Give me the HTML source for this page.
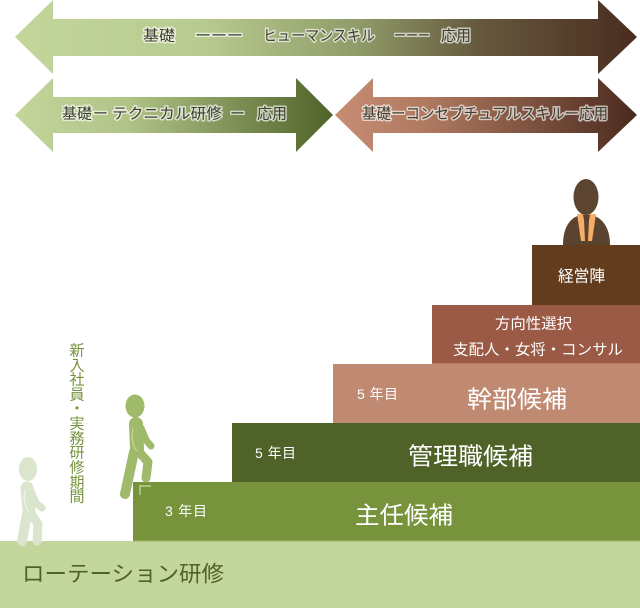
<!DOCTYPE html>
<html><head><meta charset="utf-8"><style>
html,body{margin:0;padding:0;background:#fff;}
svg{display:block;}
text{font-family:"Liberation Sans","Noto Sans CJK JP",sans-serif;}
.g{fill:#3f3f30;stroke:#ffffff;stroke-opacity:0.65;stroke-width:3;paint-order:stroke;stroke-linejoin:round;font-size:15px;}
.w{fill:#fff;}
</style></head><body>
<svg width="640" height="608" viewBox="0 0 640 608" xmlns="http://www.w3.org/2000/svg">
<defs>
<linearGradient id="ga" x1="15" y1="0" x2="637" y2="0" gradientUnits="userSpaceOnUse">
<stop offset="0" stop-color="#c3d69b"/><stop offset="0.3" stop-color="#b8cb8f"/><stop offset="0.55" stop-color="#909c69"/><stop offset="0.75" stop-color="#65583d"/><stop offset="1" stop-color="#4a2c1f"/>
</linearGradient>
<linearGradient id="gb" x1="15" y1="0" x2="333" y2="0" gradientUnits="userSpaceOnUse">
<stop offset="0" stop-color="#c3d69b"/><stop offset="0.35" stop-color="#b1c488"/><stop offset="1" stop-color="#4f6228"/>
</linearGradient>
<linearGradient id="gc" x1="335" y1="0" x2="637" y2="0" gradientUnits="userSpaceOnUse">
<stop offset="0" stop-color="#c68d73"/><stop offset="0.3" stop-color="#b07a60"/><stop offset="1" stop-color="#4a2a1e"/>
</linearGradient>
</defs>

<!-- arrows -->
<polygon fill="url(#ga)" points="15,37 53,0 53,19 598,19 598,0 637,37 598,74 598,56 53,56 53,74"/>
<polygon fill="url(#gb)" points="15,115 53,78 53,97 296,97 296,78 333,115 296,152 296,133 53,133 53,152"/>
<polygon fill="url(#gc)" points="335,115 373,78 373,97 598,97 598,78 637,115 598,152 598,133 373,133 373,152"/>

<text class="g" x="143" y="36" dominant-baseline="central" textLength="32" lengthAdjust="spacingAndGlyphs">基礎</text>
<text class="g" x="195" y="36" dominant-baseline="central" textLength="48" lengthAdjust="spacingAndGlyphs">ーーー</text>
<text class="g" x="263" y="36" dominant-baseline="central" textLength="112" lengthAdjust="spacingAndGlyphs">ヒューマンスキル</text>
<text class="g" x="394" y="36" dominant-baseline="central" textLength="36" lengthAdjust="spacingAndGlyphs">ーーー</text>
<text class="g" x="441" y="36" dominant-baseline="central" textLength="30" lengthAdjust="spacingAndGlyphs">応用</text>

<text class="g" x="62" y="114" dominant-baseline="central" textLength="30" lengthAdjust="spacingAndGlyphs">基礎</text>
<text class="g" x="93" y="114" dominant-baseline="central">ー</text>
<text class="g" x="112" y="114" dominant-baseline="central" textLength="110" lengthAdjust="spacingAndGlyphs">テクニカル研修</text>
<text class="g" x="230" y="114" dominant-baseline="central">ー</text>
<text class="g" x="257" y="114" dominant-baseline="central" textLength="30" lengthAdjust="spacingAndGlyphs">応用</text>

<text class="g" x="362" y="114" dominant-baseline="central" textLength="246" lengthAdjust="spacingAndGlyphs">基礎ーコンセプチュアルスキルー応用</text>

<!-- steps -->
<rect x="0" y="541" width="640" height="67" fill="#c3d69b"/>
<rect x="133" y="482" width="507" height="59" fill="#77933c"/>
<rect x="232" y="423" width="408" height="59" fill="#4f6228"/>
<rect x="333" y="364" width="307" height="59" fill="#c08a72"/>
<rect x="432" y="305" width="208" height="59" fill="#9a5a45"/>
<rect x="532" y="245" width="108" height="60" fill="#633c1d"/>
<line x1="432" y1="363.5" x2="640" y2="363.5" stroke="#b77a63" stroke-width="1"/>
<line x1="133" y1="541" x2="640" y2="541" stroke="#9bb565" stroke-width="1"/>

<text x="22" y="574" dominant-baseline="central" font-size="22" fill="#4f6228" textLength="202" lengthAdjust="spacingAndGlyphs">ローテーション研修</text>

<text class="w" x="165" y="511" dominant-baseline="central" font-size="14" textLength="42" lengthAdjust="spacing">3 年目</text>
<text class="w" x="355" y="516" dominant-baseline="central" font-size="24" textLength="98" lengthAdjust="spacingAndGlyphs">主任候補</text>

<text class="w" x="255" y="453" dominant-baseline="central" font-size="14" textLength="41" lengthAdjust="spacing">5 年目</text>
<text class="w" x="408" y="457" dominant-baseline="central" font-size="24" textLength="125" lengthAdjust="spacingAndGlyphs">管理職候補</text>

<text class="w" x="357" y="394" dominant-baseline="central" font-size="14" textLength="41" lengthAdjust="spacing">5 年目</text>
<text class="w" x="467" y="400" dominant-baseline="central" font-size="24" textLength="100" lengthAdjust="spacingAndGlyphs">幹部候補</text>

<text class="w" x="495" y="324" dominant-baseline="central" font-size="15" textLength="77" lengthAdjust="spacingAndGlyphs">方向性選択</text>
<text class="w" x="453" y="350" dominant-baseline="central" font-size="15" textLength="170" lengthAdjust="spacingAndGlyphs">支配人・女将・コンサル</text>

<text class="w" x="558" y="277" dominant-baseline="central" font-size="16" textLength="47" lengthAdjust="spacingAndGlyphs">経営陣</text>

<!-- vertical text -->
<g fill="#77933c" font-size="15" text-anchor="middle">
<text x="77" y="351" dominant-baseline="central">新</text>
<text x="77" y="366" dominant-baseline="central">入</text>
<text x="77" y="380" dominant-baseline="central">社</text>
<text x="77" y="395" dominant-baseline="central">員</text>
<text x="77" y="409" dominant-baseline="central">・</text>
<text x="77" y="424" dominant-baseline="central">実</text>
<text x="77" y="439" dominant-baseline="central">務</text>
<text x="77" y="453" dominant-baseline="central">研</text>
<text x="77" y="468" dominant-baseline="central">修</text>
<text x="77" y="483" dominant-baseline="central">期</text>
<text x="77" y="497" dominant-baseline="central">間</text>
</g>

<!-- person at top -->
<path d="M563,245 C563,226 571,215 586,214 C601,215 610,226 610,245 Z" fill="#5a4430"/>
<polygon points="577,214 596,214 592,241 581,241" fill="#f8ad66"/>
<polygon points="583,215 590,215 589,220 588,241 585,241 584,220" fill="#5a4430"/>
<ellipse cx="586" cy="197" rx="12.5" ry="18" fill="#5c4631"/>

<!-- figure 2 (stepping) -->
<g stroke="#9fba6a" stroke-linecap="round" stroke-linejoin="round" fill="none">
<path d="M136,424 L137,449" stroke-width="14"/>
<path d="M141,428 L146,440 L151,446" stroke-width="7"/>
<path d="M134,452 L125,494" stroke-width="10"/>
<path d="M139,452 L148,462 L146,478" stroke-width="9"/>
</g>
<ellipse cx="135" cy="406" rx="9.5" ry="11.5" fill="#9fba6a"/>
<path d="M133,428 C131,438 133,447 137,451" fill="none" stroke="#c6da92" stroke-width="1.2"/>
<polyline points="140,495 140,486 151,486" fill="none" stroke="#a9c27a" stroke-width="2"/>

<!-- figure 1 (walking, faded) -->
<g stroke="#dbe4cc" stroke-linecap="round" stroke-linejoin="round" fill="none">
<path d="M27,488 L29,511" stroke-width="13"/>
<path d="M31,491 L36,503 L42,508" stroke-width="7"/>
<path d="M27,514 L22,541" stroke-width="10"/>
<path d="M31,514 L38,524 L37,541" stroke-width="9"/>
</g>
<ellipse cx="28" cy="469" rx="9" ry="12" fill="#dbe4cc"/>
<path d="M25,490 C23,498 25,507 29,512" fill="none" stroke="#f0f4e8" stroke-width="1.2"/>
</svg>
</body></html>
